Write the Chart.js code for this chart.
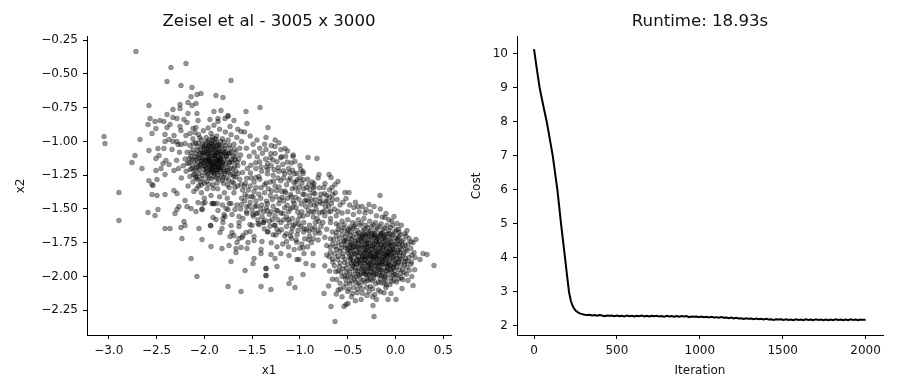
<!DOCTYPE html>
<html>
<head>
<meta charset="utf-8">
<script src="https://cdn.jsdelivr.net/npm/chart.js@4"></script>
<style>
html, body { margin: 0; padding: 0; background: #fff; overflow: hidden; width: 900px; height: 392px; }
canvas { position: absolute; top: 0; }
#graficoScatter { left: 0; }
#graficoCosto { left: 470px; }
</style>
</head>
<body>
<canvas id="graficoScatter" width="470" height="392"></canvas>
<canvas id="graficoCosto" width="430" height="392"></canvas>
<script>
// Punti isolati
const puntiIsolati = [[-2.715,-.334],[-2.349,-.452],[-2.192,-.422],[-2.39,-.556],[-2.244,-.586],[-2.129,-.6],[-1.721,-.548],[-2.035,-.645],[-2.077,-.652],[-2.139,-.669],[-1.878,-.66],[-1.805,-.674],[-2.579,-.734],[-2.254,-.726],[-2.171,-.711],[-2.087,-.719],[-2.129,-.734],[-1.418,-.749],[-1.564,-.778],[-1.899,-.778],[-1.826,-.771],[-2.328,-.763],[-2.254,-.756],[-2.39,-.8],[-2.171,-.793],[-2.077,-.793],[-1.752,-.808],[-2.568,-.83],[-2.516,-.852],[-2.464,-.845],[-2.422,-.852],[-2.589,-.874],[-2.506,-.904],[-2.547,-.941],[-2.359,-.874],[-2.39,-.897],[-2.286,-.83],[-2.328,-.822],[-2.213,-.837],[-2.181,-.86],[-2.254,-.889],[-2.244,-.919],[-2.066,-.845],[-2.118,-.904],[-2.087,-.897],[-1.941,-.837],[-1.857,-.83],[-1.857,-.852],[-1.784,-.83],[-1.752,-.815],[-1.69,-.845],[-1.731,-.889],[-1.554,-.867],[-1.616,-.926],[-1.334,-.897],[-3.049,-.963],[-3.039,-1.015],[-2.673,-.985],[-2.411,-.948],[-2.317,-.956],[-2.369,-.985],[-2.411,-1],[-2.328,-1],[-2.286,-1],[-2.244,-1.022],[-2.202,-1.015],[-2.275,-1.022],[-2.15,-.941],[-2.097,-.934],[-2.192,-.956],[-2.579,-1.067],[-2.485,-1.052],[-2.422,-1.052],[-2.338,-1.06],[-2.725,-1.104],[-2.757,-1.156],[-2.652,-1.2],[-2.506,-1.126],[-2.474,-1.104],[-2.401,-1.141],[-2.432,-1.163],[-2.369,-1.171],[-2.506,-1.215],[-2.453,-1.2],[-2.411,-1.245],[-2.317,-1.215],[-2.579,-1.29],[-2.495,-1.282],[-2.537,-1.326],[-2.547,-1.319],
[-2.893,-1.378],[-2.893,-1.585],[-2.547,-1.393],[-2.495,-1.4],[-2.411,-1.393],[-2.317,-1.363],[-2.286,-1.385],[-2.202,-1.437],[-2.265,-1.482],[-2.286,-1.504],[-2.307,-1.534],[-2.181,-1.482],[-2.139,-1.497],[-2.087,-1.519],[-2.485,-1.504],[-2.589,-1.526],[-2.516,-1.548],[-2.411,-1.645],[-2.359,-1.645],[-2.213,-1.593],[-2.202,-1.623],[-2.244,-1.637],[-2.056,-1.645],[-2.234,-1.719],[-2.024,-1.726],[-1.93,-1.778],[-1.815,-1.793],[-1.742,-1.771],[-2.139,-1.867],[-2.077,-2],[-1.721,-1.889],[-1.574,-1.956],[-1.752,-2.074],[-1.616,-2.111],[-1.407,-2.074],[-1.355,-1.993],[-1.355,-1.941],[-1.48,-1.867],[-1.491,-1.904],[-1.407,-1.83],[-1.669,-1.823],[-1.669,-1.793],[-1.616,-1.785],[-1.554,-1.793],[-1.658,-1.749],[-1.543,-1.749],[-1.48,-1.734],[-1.48,-1.704],[-1.397,-1.741],[-1.407,-1.8],[-1.731,-1.704],[-1.71,-1.674],[-1.69,-1.697],[-1.637,-1.719],[-1.596,-1.697],[-1.564,-1.674],[-1.522,-1.667],[-1.606,-1.711],[-1.815,-1.645],[-1.836,-1.674],[-1.934,-1.623],[-1.934,-1.623],[-1.721,-1.623],[-1.637,-1.63],[-1.522,-1.615],[-1.805,-1.6],[-1.909,-1.563],[-1.878,-1.578],[-1.784,-1.556],[-1.805,-1.571],[-2.024,-1.504],[-2.024,-1.5],[-2.014,-1.46],[-2.066,-1.452],[-1.993,-1.452],[-1.909,-1.46],[-1.92,-1.46],[-1.899,-1.46],[-1.867,-1.46],[-1.857,-1.511],[-1.794,-1.541],[-1.773,-1.497],[-1.71,-1.541],[-1.679,-1.504],[-1.637,-1.556],[-1.637,-1.6],[-1.721,-1.46],[-1.752,-1.504],[-1.596,-1.571],[-1.554,-1.534],[-1.491,-1.541],[-1.439,-1.608],[-1.386,-1.6],[-1.501,-1.623],[-1.334,-1.667],[-1.369,-1.583],[-1.456,-1.534],
[-.916,-1.118],[-.822,-1.126],[-1.261,-1.037],[-1.156,-1.052],[-1.303,-1.089],[-1.355,-.97],[-1.355,-1.059],[-.163,-1.4],[-.487,-1.378],[-.529,-1.378],[-.518,-1.422],[-.602,-1.296],[-.633,-1.318],[-.665,-1.341],[-.696,-1.244],[-.675,-1.267],[-.801,-1.244],[-.738,-1.311],[-.853,-1.311],[-.863,-1.333],[-.968,-1.237],[-.968,-1.222],[-1.052,-1.148],[-1,-1.178],[-1.073,-1.111],[-1.031,-1.237],[.402,-1.918],[.329,-1.837],[.287,-1.83],[.256,-1.874],[.204,-1.859],[.214,-1.726],[.183,-1.748],[.141,-1.718],[.183,-2.067],[.068,-2.089],[.005,-2.17],[-.079,-2.17],[-.048,-2.126],[-.1,-2.081],[-.016,-2.03],[-.236,-2.215],[-.225,-2.296],[-.633,-2.333],[-.675,-2.222],[-.539,-2.222],[-.497,-2.2],[-.518,-2.207],[-.748,-2.126],[-1.052,-2.081],[-1.114,-2.052],[-1.093,-2.015],[-1.303,-2.096],[-.968,-1.985],[-1.355,-1.941],[-1.355,-1.993],[-1.24,-1.926],[-.937,-1.904],[-.863,-1.918],[-.863,-1.83],[-.958,-1.83],[-1.114,-1.844],[-1.303,-1.837],[-1.261,-1.867],[-1.031,-1.874],[-1.01,-1.874],[-.1,-1.533],[-.016,-1.556],[.015,-1.607],[-.11,-1.563],[-.278,-1.467],[-.225,-1.481],[-.435,-1.489],[-.393,-1.481],[-.351,-1.481],[-.309,-1.504]];

// Nuclei densi: qui i singoli punti non si leggono, valori stimati a occhio
const nucleoAlto = [[-2.12,-.98],[-2.06,-.95],[-2.01,-.92],[-1.96,-.9],[-1.9,-.88],[-1.84,-.91],[-1.78,-.93],[-1.72,-.95],[-1.66,-.97],[-1.61,-1.0],[-2.15,-1.03],[-2.09,-1.01],[-2.03,-.99],[-1.98,-.97],[-1.93,-.94],[-1.87,-.96],[-1.81,-.98],[-1.75,-.99],[-1.69,-1.02],[-1.63,-1.05],[-2.18,-1.08],[-2.12,-1.06],[-2.07,-1.04],[-2.02,-1.02],[-1.97,-1.0],[-1.92,-.99],[-1.88,-1.01],[-1.83,-1.0],[-1.78,-1.03],[-1.73,-1.05],[-1.67,-1.08],[-2.2,-1.13],[-2.14,-1.11],[-2.09,-1.09],[-2.04,-1.06],[-2.0,-1.05],[-1.95,-1.03],[-1.9,-1.04],[-1.85,-1.05],[-1.8,-1.07],[-1.75,-1.09],[-1.7,-1.11],[-1.64,-1.13],[-2.22,-1.18],[-2.16,-1.16],[-2.11,-1.14],[-2.06,-1.12],[-2.01,-1.09],[-1.96,-1.07],[-1.91,-1.08],[-1.86,-1.09],[-1.81,-1.11],[-1.76,-1.13],[-1.71,-1.15],[-1.65,-1.18],[-2.19,-1.22],[-2.13,-1.2],[-2.08,-1.17],[-2.03,-1.15],[-1.98,-1.12],[-1.93,-1.11],[-1.88,-1.13],[-1.83,-1.15],[-1.78,-1.17],[-1.73,-1.2],[-1.67,-1.22],[-2.15,-1.26],[-2.1,-1.24],[-2.05,-1.21],[-2.0,-1.18],[-1.95,-1.16],[-1.9,-1.17],[-1.85,-1.19],[-1.8,-1.21],[-1.75,-1.23],[-1.69,-1.26],[-1.63,-1.28],[-2.12,-1.3],[-2.07,-1.28],[-2.02,-1.25],[-1.97,-1.22],[-1.92,-1.21],[-1.87,-1.23],[-1.82,-1.25],[-1.77,-1.27],[-1.71,-1.3],[-1.65,-1.33],[-2.06,-1.33],[-2.0,-1.31],[-1.95,-1.27],[-1.9,-1.26],[-1.85,-1.28],[-1.8,-1.31],[-1.74,-1.34],[-2.03,-1.38],[-1.97,-1.35],[-1.91,-1.32],[-1.86,-1.35],[-1.79,-1.38],[-1.93,-1.02],[-1.87,-1.03],[-1.98,-1.05],[-2.02,-1.08],[-1.95,-1.1],[-1.89,-1.1],[-1.84,-1.12],[-1.99,-1.14],[-1.93,-1.15],[-1.87,-1.16],[-1.82,-1.18],[-2.04,-1.18],[-1.98,-1.2],[-1.91,-1.19],[-1.86,-1.21],[-1.96,-1.24],[-1.9,-1.24],[-1.95,-.99],[-1.89,-.98],[-1.84,-1.03],[-1.91,-1.06],[-1.85,-1.07],[-1.79,-1.09],[-2.0,-1.03],[-2.05,-1.1],[-1.97,-1.09],[-1.92,-1.13],[-1.86,-1.14],[-1.81,-1.16],[-2.01,-1.16],[-1.94,-1.18],[-1.88,-1.19],[-1.83,-1.22],[-1.99,-1.23],[-1.93,-1.23],[-1.87,-1.27],[-1.94,-1.04],[-1.88,-1.06],[-1.82,-1.08],[-1.96,-1.13],[-1.9,-1.15],[-1.84,-1.17],[-1.92,-1.01],[-1.86,-1.11],[-1.94,-1.21],[-1.89,-1.22],[-1.97,-1.17],[-2.03,-1.12],[-1.77,-1.11],[-1.76,-1.19],[-1.79,-1.24],[-2.08,-1.13],[-2.06,-1.19],[-1.74,-1.16],[-1.7,-1.24],[-2.13,-1.14],[-2.1,-1.21],[-2.09,-1.27],[-2.04,-1.3],[-1.72,-1.08],[-1.68,-1.14],[-1.62,-1.1],[-1.59,-1.16],[-1.6,-1.23],[-1.56,-1.05],[-1.53,-1.11],[-1.55,-1.2],[-1.51,-1.27],[-1.57,-1.31],[-1.6,-1.36],[-1.69,-1.38],[-1.76,-1.42],[-1.84,-1.41],[-1.93,-1.4],[-2.0,-1.42],[-2.11,-1.37],[-2.17,-1.33],[-2.24,-1.27],[-2.27,-1.2],[-2.29,-1.14],[-2.26,-1.08],[-2.08,-1.35],[-1.49,-1.02],[-1.45,-.99],[-1.52,-.96],[-1.58,-.93],[-1.65,-.91]];

const rinforzoAlto = [[-2.113,-1.017],[-2.047,-.973],[-1.983,-1.012],[-1.917,-.967],[-1.853,-1.023],[-1.793,-1.006],[-1.737,-1.027],[-1.683,-1.057],[-2.137,-1.083],[-2.073,-1.067],[-2.017,-1.043],[-1.963,-1.057],[-1.907,-1.023],[-1.843,-1.077],[-1.787,-1.053],[-1.733,-1.087],[-1.677,-1.113],[-2.157,-1.127],[-2.097,-1.113],[-2.043,-1.087],[-1.987,-1.083],[-1.933,-1.067],[-1.877,-1.083],[-1.823,-1.097],[-1.767,-1.103],[-1.713,-1.133],[-1.657,-1.153],[-2.177,-1.163],[-2.123,-1.177],[-2.067,-1.153],[-2.013,-1.127],[-1.957,-1.117],[-1.903,-1.107],[-1.847,-1.143],[-1.793,-1.137],[-1.737,-1.157],[-1.683,-1.183],[-2.147,-1.207],[-2.087,-1.197],[-2.033,-1.173],[-1.977,-1.153],[-1.923,-1.167],[-1.867,-1.147],[-1.813,-1.193],[-1.757,-1.213],[-1.703,-1.203],[-1.647,-1.237],[-2.113,-1.247],[-2.057,-1.237],[-2.003,-1.207],[-1.947,-1.193],[-1.893,-1.187],[-1.837,-1.207],[-1.783,-1.223],[-1.727,-1.247],[-1.673,-1.263],[-2.077,-1.263],[-2.023,-1.277],[-1.967,-1.257],[-1.913,-1.227],[-1.857,-1.247],[-1.803,-1.267],[-1.747,-1.287],[-1.693,-1.307],[-2.033,-1.323],[-1.977,-1.297],[-1.923,-1.277],[-1.867,-1.307],[-1.813,-1.287],[-1.757,-1.323],[-1.907,-1.347],[-1.953,-1.317],[-2.003,-1.087],[-1.947,-1.137],[-1.887,-1.123],[-1.833,-1.133],[-1.897,-1.053],[-1.957,-1.033],[-2.027,-1.143],[-1.973,-1.143],[-1.917,-1.173],[-1.857,-1.173],[-1.803,-1.157],[-2.063,-1.013],[-1.823,-1.037],[-1.773,-1.077],[-1.877,-.987],[-1.943,-1.083],[-1.887,-1.097],[-1.827,-1.127],[-1.937,-1.147],[-1.883,-1.157],[-1.843,-1.193],[-1.987,-1.187],[-1.927,-1.203],[-1.877,-1.207]];

const ponte = [[-1.48,-1.08],[-1.42,-1.05],[-1.37,-1.02],[-1.31,-1.12],[-1.26,-1.09],[-1.2,-1.06],[-1.15,-1.11],[-1.09,-1.16],[-1.42,-1.15],[-1.36,-1.13],[-1.3,-1.18],[-1.24,-1.15],[-1.18,-1.17],[-1.12,-1.2],[-1.06,-1.24],[-1.0,-1.27],[-1.46,-1.2],[-1.4,-1.22],[-1.34,-1.24],[-1.28,-1.25],[-1.22,-1.22],[-1.16,-1.24],[-1.1,-1.27],[-1.04,-1.3],[-.98,-1.31],[-.92,-1.28],[-.86,-1.38],[-1.48,-1.3],[-1.42,-1.28],[-1.37,-1.32],[-1.31,-1.3],[-1.26,-1.33],[-1.2,-1.29],[-1.14,-1.32],[-1.08,-1.35],[-1.02,-1.37],[-.96,-1.35],[-.9,-1.4],[-.84,-1.43],[-.78,-1.39],[-.72,-1.4],[-.66,-1.43],[-1.54,-1.36],[-1.48,-1.37],[-1.43,-1.39],[-1.37,-1.38],[-1.31,-1.4],[-1.25,-1.41],[-1.19,-1.37],[-1.13,-1.42],[-1.07,-1.44],[-1.01,-1.43],[-.95,-1.44],[-.89,-1.47],[-.83,-1.5],[-.77,-1.46],[-.7,-1.48],[-.64,-1.5],[-.58,-1.47],[-1.58,-1.44],[-1.52,-1.45],[-1.46,-1.44],[-1.4,-1.47],[-1.34,-1.46],[-1.28,-1.48],[-1.22,-1.46],[-1.16,-1.49],[-1.1,-1.5],[-1.04,-1.49],[-.98,-1.52],[-.92,-1.54],[-.86,-1.56],[-.8,-1.53],[-.74,-1.55],[-.68,-1.57],[-1.62,-1.5],[-1.56,-1.52],[-1.5,-1.51],[-1.44,-1.53],[-1.38,-1.52],[-1.32,-1.54],[-1.26,-1.55],[-1.2,-1.53],[-1.14,-1.56],[-1.08,-1.57],[-1.02,-1.58],[-.96,-1.6],[-.9,-1.62],[-.84,-1.6],[-.78,-1.63],[-1.44,-1.58],[-1.38,-1.6],[-1.32,-1.59],[-1.26,-1.62],[-1.2,-1.6],[-1.14,-1.63],[-1.08,-1.64],[-1.02,-1.66],[-.96,-1.67],[-.9,-1.7],[-.84,-1.68],[-1.34,-1.67],[-1.28,-1.69],[-1.22,-1.67],[-1.16,-1.7],[-1.1,-1.7],[-1.04,-1.73],[-.98,-1.76],[-.92,-1.78],[-1.3,-1.75],[-1.24,-1.78],[-1.18,-1.76],[-1.12,-1.78],[-1.06,-1.8],[-1.0,-1.79],[-.88,-1.75],[-1.2,-1.83],[-1.14,-1.74],[-1.43,-1.26],[-1.35,-1.19],[-1.27,-1.21],[-1.23,-1.27],[-1.17,-1.27],[-1.11,-1.23],[-1.05,-1.34],[-.99,-1.21],[-.93,-1.34],[-.87,-1.3],[-.81,-1.27],[-.75,-1.34],[-.69,-1.36],[-.63,-1.38],[-1.33,-1.35],[-1.29,-1.43],[-1.21,-1.43],[-1.15,-1.38],[-1.09,-1.41],[-.97,-1.39],[-.91,-1.44],[-.85,-1.47],[-.79,-1.42],[-.73,-1.44],[-.67,-1.46],[-.61,-1.43],[-.55,-1.45],[-1.25,-1.51],[-1.17,-1.44],[-1.12,-1.52],[-1.06,-1.46],[-1.0,-1.55],[-.94,-1.48],[-.88,-1.52],[-.82,-1.57],[-.76,-1.6],[-.7,-1.52],[-1.58,-1.33],[-1.52,-1.33],[-1.46,-1.34],[-1.41,-1.42],[-1.35,-1.44],[-1.55,-1.41],[-1.49,-1.41],[-1.53,-1.48],[-1.47,-1.48],[-1.41,-1.5],[-1.35,-1.49],[-1.3,-1.52],[-1.23,-1.58],[-1.17,-1.58],[-1.11,-1.6],[-1.05,-1.61],[-.99,-1.63],[-.93,-1.65],[-.87,-1.65],[-.81,-1.66],[-1.61,-1.42],[-1.66,-1.47],[-1.68,-1.34],[-1.74,-1.46],[-1.81,-1.47],[-1.27,-1.62],[-1.24,-1.65],[-1.09,-1.67],[-1.03,-1.69],[-.95,-1.72],[-.86,-1.72],[-.81,-1.73],[-1.3,-1.03],[-1.22,-1.01],[-1.13,-1.07],[-1.07,-1.1],[-1.2,-1.12],[-1.26,-.99],
[-1.447,-1.113],[-1.393,-1.087],[-1.337,-1.163],[-1.283,-1.137],[-1.227,-1.193],[-1.173,-1.217],[-1.117,-1.287],[-1.063,-1.303],[-1.007,-1.337],[-.953,-1.393],[-.897,-1.357],[-.843,-1.387],[-.787,-1.447],[-.733,-1.483],[-.677,-1.517],[-1.517,-1.233],[-1.463,-1.267],[-1.407,-1.343],[-1.353,-1.307],[-1.297,-1.367],[-1.243,-1.363],[-1.187,-1.413],[-1.133,-1.473],[-1.077,-1.487],[-1.023,-1.523],[-.967,-1.553],[-.913,-1.507],[-.857,-1.523],[-.803,-1.593],[-.747,-1.517],[-1.573,-1.393],[-1.507,-1.407],[-1.453,-1.477],[-1.397,-1.557],[-1.343,-1.513],[-1.287,-1.577],[-1.233,-1.513],[-1.177,-1.533],[-1.123,-1.577],[-1.067,-1.623],[-1.013,-1.613],[-.957,-1.647],[-.903,-1.663],[-.847,-1.637],[-.793,-1.677],[-1.613,-1.467],[-1.557,-1.483],[-1.487,-1.553],[-1.427,-1.617],[-1.373,-1.647],[-1.313,-1.627],[-1.253,-1.693],[-1.193,-1.653],[-1.143,-1.683],[-1.087,-1.717],[-1.033,-1.747],[-.967,-1.787],[-.907,-1.727],[-1.337,-1.207],[-1.277,-1.293],[-1.217,-1.337],[-1.157,-1.367],[-1.097,-1.393],[-1.043,-1.413],[-.987,-1.463],[-.933,-1.433],[-.877,-1.433],[-.823,-1.463],[-.767,-1.523],[-.717,-1.447],[-.657,-1.393],[-.603,-1.517],[-1.193,-1.113],[-1.133,-1.153],[-1.077,-1.213],[-1.027,-1.283],[-.967,-1.283],[-.907,-1.317],[-.853,-1.343],[-.797,-1.343],[-.743,-1.387],[-.693,-1.413],[-1.463,-1.157],[-1.513,-1.177],[-1.407,-1.187],[-1.557,-1.273],[-1.617,-1.317]];

const nucleoBasso = [[-.62,-1.55],[-.56,-1.53],[-.5,-1.52],[-.44,-1.54],[-.38,-1.52],[-.32,-1.53],[-.26,-1.52],[-.2,-1.55],[-.14,-1.56],[-.07,-1.58],[-.68,-1.6],[-.62,-1.61],[-.56,-1.59],[-.5,-1.58],[-.45,-1.6],[-.39,-1.58],[-.33,-1.57],[-.27,-1.59],[-.21,-1.6],[-.15,-1.61],[-.09,-1.62],[-.03,-1.62],[.03,-1.65],[-.72,-1.65],[-.66,-1.67],[-.6,-1.65],[-.54,-1.64],[-.49,-1.65],[-.43,-1.63],[-.37,-1.62],[-.31,-1.62],[-.25,-1.63],[-.19,-1.64],[-.13,-1.65],[-.07,-1.66],[-.01,-1.67],[.05,-1.69],[.11,-1.7],[-.74,-1.71],[-.68,-1.72],[-.62,-1.7],[-.56,-1.69],[-.51,-1.68],[-.46,-1.67],[-.4,-1.66],[-.34,-1.66],[-.28,-1.67],[-.22,-1.68],[-.16,-1.68],[-.1,-1.69],[-.04,-1.7],[.02,-1.72],[.08,-1.73],[.13,-1.76],[-.72,-1.77],[-.66,-1.76],[-.6,-1.75],[-.54,-1.74],[-.49,-1.72],[-.44,-1.71],[-.38,-1.7],[-.32,-1.7],[-.26,-1.71],[-.2,-1.71],[-.14,-1.72],[-.08,-1.73],[-.02,-1.74],[.04,-1.76],[.1,-1.77],[.16,-1.79],[-.68,-1.82],[-.62,-1.8],[-.57,-1.79],[-.52,-1.77],[-.47,-1.75],[-.42,-1.74],[-.36,-1.74],[-.3,-1.74],[-.24,-1.75],[-.18,-1.75],[-.12,-1.76],[-.06,-1.77],[0,-1.78],[.06,-1.8],[.12,-1.81],[.17,-1.84],[-.66,-1.87],[-.6,-1.85],[-.55,-1.83],[-.5,-1.81],[-.45,-1.79],[-.4,-1.78],[-.34,-1.78],[-.28,-1.78],[-.22,-1.79],[-.16,-1.79],[-.1,-1.8],[-.04,-1.81],[.02,-1.82],[.08,-1.84],[.14,-1.86],[-.64,-1.92],[-.58,-1.9],[-.53,-1.87],[-.48,-1.85],[-.43,-1.83],[-.38,-1.82],[-.32,-1.82],[-.26,-1.82],[-.2,-1.83],[-.14,-1.83],[-.08,-1.84],[-.02,-1.85],[.04,-1.87],[.1,-1.89],[.16,-1.91],[-.6,-1.96],[-.55,-1.94],[-.5,-1.91],[-.45,-1.88],[-.4,-1.87],[-.35,-1.86],[-.3,-1.86],[-.24,-1.86],[-.18,-1.87],[-.12,-1.87],[-.06,-1.88],[0,-1.89],[.06,-1.91],[.12,-1.93],[-.56,-2.0],[-.51,-1.97],[-.46,-1.94],[-.42,-1.91],[-.37,-1.9],[-.32,-1.9],[-.26,-1.9],[-.2,-1.91],[-.14,-1.91],[-.08,-1.92],[-.02,-1.93],[.04,-1.95],[.09,-1.97],[-.58,-2.05],[-.52,-2.02],[-.47,-2.0],[-.42,-1.96],[-.38,-1.94],[-.33,-1.94],[-.28,-1.94],[-.22,-1.95],[-.16,-1.95],[-.1,-1.96],[-.04,-1.97],[.01,-1.99],[.06,-2.01],[-.6,-2.1],[-.54,-2.08],[-.48,-2.05],[-.43,-2.02],[-.38,-1.99],[-.33,-1.98],[-.28,-1.99],[-.23,-1.99],[-.17,-1.99],[-.11,-2.0],[-.05,-2.01],[.01,-2.04],[-.5,-2.11],[-.44,-2.08],[-.39,-2.05],[-.34,-2.03],[-.29,-2.03],[-.24,-2.03],[-.18,-2.04],[-.12,-2.05],[-.06,-2.06],[-.46,-2.15],[-.4,-2.12],[-.35,-2.09],[-.3,-2.08],[-.24,-2.09],[-.18,-2.1],[-.12,-2.12],[-.36,-2.17],[-.3,-2.14],[-.24,-2.15],[-.2,-2.17],[-.42,-2.18],[-.72,-1.84],[-.74,-1.92],[-.69,-1.96],[-.66,-2.02],[-.7,-2.07],[-.62,-2.13],[-.56,-2.15],[.2,-1.95],[.17,-2.0],[.13,-2.03],[.12,-1.66],[.06,-1.62],[-.04,-1.59],[-.16,-1.5],[-.48,-1.47],[-.42,-1.45]];

const rinforzoBasso = [[-.593,-1.623],[-.537,-1.617],[-.477,-1.633],[-.417,-1.613],[-.357,-1.603],[-.293,-1.637],[-.233,-1.617],[-.173,-1.627],[-.113,-1.643],[-.053,-1.637],[.007,-1.653],[-.617,-1.673],[-.563,-1.657],[-.503,-1.663],[-.447,-1.643],[-.387,-1.677],[-.323,-1.647],[-.263,-1.663],[-.207,-1.657],[-.147,-1.677],[-.087,-1.683],[-.027,-1.687],[.033,-1.707],[-.647,-1.727],[-.587,-1.717],[-.527,-1.707],[-.473,-1.693],[-.413,-1.687],[-.353,-1.693],[-.293,-1.683],[-.237,-1.697],[-.177,-1.703],[-.117,-1.707],[-.057,-1.717],[.003,-1.713],[.063,-1.743],[-.627,-1.777],[-.567,-1.763],[-.513,-1.737],[-.457,-1.723],[-.397,-1.733],[-.343,-1.707],[-.283,-1.727],[-.223,-1.713],[-.167,-1.737],[-.107,-1.727],[-.047,-1.743],[.013,-1.757],[.073,-1.767],[-.637,-1.833],[-.583,-1.813],[-.527,-1.787],[-.473,-1.767],[-.417,-1.757],[-.357,-1.767],[-.303,-1.757],[-.243,-1.737],[-.187,-1.767],[-.127,-1.747],[-.067,-1.763],[-.013,-1.767],[.047,-1.783],[.107,-1.797],[-.607,-1.873],[-.553,-1.853],[-.497,-1.827],[-.447,-1.807],[-.387,-1.797],[-.327,-1.793],[-.267,-1.773],[-.213,-1.783],[-.153,-1.763],[-.093,-1.793],[-.033,-1.797],[.027,-1.807],[.087,-1.827],[-.587,-1.927],[-.533,-1.897],[-.477,-1.873],[-.423,-1.837],[-.367,-1.827],[-.313,-1.813],[-.253,-1.797],[-.193,-1.813],[-.137,-1.797],[-.077,-1.813],[-.017,-1.823],[.043,-1.847],[.103,-1.867],[-.573,-1.967],[-.517,-1.937],[-.463,-1.903],[-.407,-1.877],[-.347,-1.847],[-.293,-1.847],[-.237,-1.823],[-.177,-1.823],[-.117,-1.833],[-.057,-1.843],[.003,-1.843],[.063,-1.873],[.123,-1.887],[-.533,-1.993],[-.483,-1.963],[-.427,-1.933],[-.373,-1.907],[-.317,-1.877],[-.263,-1.873],[-.203,-1.857],[-.143,-1.867],[-.083,-1.863],[-.023,-1.877],[.033,-1.893],[.093,-1.913],[-.503,-2.003],[-.447,-1.987],[-.397,-1.957],[-.343,-1.927],[-.283,-1.917],[-.227,-1.897],[-.167,-1.897],[-.107,-1.907],[-.047,-1.917],[.013,-1.927],[.073,-1.947],[-.463,-2.033],[-.413,-2.003],[-.357,-1.977],[-.303,-1.957],[-.247,-1.933],[-.187,-1.927],[-.127,-1.937],[-.067,-1.947],[-.007,-1.957],[.053,-1.977],[-.417,-2.043],[-.367,-2.017],[-.313,-1.987],[-.257,-1.967],[-.197,-1.957],[-.137,-1.977],[-.087,-1.987],[-.027,-1.993],[.033,-2.017],[-.373,-2.063],[-.323,-2.043],[-.267,-2.023],[-.213,-1.983],[-.157,-2.017],[-.103,-2.027],[-.043,-2.037],[-.263,-2.073],[-.207,-2.053],[-.153,-2.047],[-.097,-2.063],[-.537,-1.733],[-.497,-1.793],[-.457,-1.843],[-.437,-1.897],[-.403,-1.823],[-.383,-1.763],[-.347,-1.733],[-.317,-1.767],[-.277,-1.813],[-.247,-1.857],[-.223,-1.763],[-.197,-1.733],[-.163,-1.783],[-.133,-1.823],[-.097,-1.847],[-.073,-1.897],[-.043,-1.773],[-.017,-1.803],[.017,-1.867],[-.367,-1.793],[-.343,-1.853],[-.327,-1.903],[-.297,-1.803],[-.273,-1.903],[-.243,-1.777],[-.217,-1.847],[-.207,-1.893],[-.183,-1.843],[-.153,-1.907],[-.127,-1.783],[-.103,-1.873],[-.077,-1.753],[-.057,-1.803],[-.033,-1.863],[-.013,-1.907],[-.417,-1.783],[-.393,-1.853],[-.377,-1.883],[-.353,-1.943],[-.323,-1.733],[-.307,-1.973],[-.287,-1.753],[-.257,-1.943],[-.233,-1.973],[-.203,-1.747],[-.177,-1.947],[-.147,-1.953],[-.123,-1.713],[-.093,-1.957],[-.063,-1.683],[-.387,-1.727],[-.363,-1.713],[-.337,-1.683],[-.313,-1.693],[-.283,-1.703],[-.247,-1.683],[-.217,-1.693],[-.187,-1.717],[-.157,-1.693],[-.133,-1.683],[-.477,-1.783],[-.457,-1.757],[-.437,-1.777],[-.473,-1.813],[-.467,-1.863],[-.447,-1.923],[-.403,-1.907],[-.393,-1.983],[-.337,-1.963],[-.297,-2.013],[-.267,-1.983],[-.227,-2.013],[-.187,-1.983],[-.143,-1.993],[-.117,-2.013],[-.083,-1.933],[-.047,-1.953],[-.003,-1.987],[-.303,-1.783],[-.273,-1.843],[-.237,-1.873],[-.207,-1.813],[-.167,-1.853],[-.143,-1.893],[-.107,-1.767],[-.073,-1.827],[-.043,-1.833],[-.333,-1.823],[-.307,-1.853],[-.287,-1.893],[-.263,-1.833],[-.227,-1.853],[-.193,-1.873],[-.167,-1.813],[-.127,-1.853],[-.093,-1.833],[-.357,-1.877],[-.323,-1.873],[-.293,-1.933],[-.253,-1.913],[-.213,-1.923],[-.173,-1.913],[-.133,-1.883],[-.097,-1.903],[-.063,-1.913],[-.023,-1.933],[.017,-1.903],[.043,-1.823],[.027,-1.733],[-.683,-1.783],[-.693,-1.853],[-.657,-1.893],[-.627,-1.963],[-.617,-2.023],[-.577,-2.093],[-.517,-2.053],[-.487,-2.093],[-.447,-2.123],[-.397,-2.093],[-.347,-2.123],[-.277,-2.113],[-.217,-2.133],[-.157,-2.113],[.077,-2.023],[.113,-1.983],[.143,-1.953],[.167,-1.893],[.193,-1.823],[.163,-1.743],[.097,-1.683],[.037,-1.673]];

const iterazioni = [0,17,34,55,77,95,113,127,141,152,163,175,187,200,211,222,232,242,252,265,276,290,305,320,335,350,365,380,395,410,425,440,455,470,485,500,515,530,545,560,575,590,605,620,635,650,665,680,695,710,725,740,755,770,785,800,815,830,845,860,875,890,905,920,935,950,965,980,995,1010,1025,1040,1055,1070,1085,1100,1115,1130,1145,1160,1175,1190,1205,1220,1235,1250,1265,1280,1295,1310,1325,1340,1355,1370,1385,1400,1415,1430,1445,1460,1475,1490,1505,1520,1535,1550,1565,1580,1595,1610,1625,1640,1655,1670,1685,1700,1715,1730,1745,1760,1775,1790,1805,1820,1835,1850,1865,1880,1895,1910,1925,1940,1955,1970,1985,2000];
const costo = [10.14,9.55,9.0,8.5,8.0,7.5,7.0,6.5,6.0,5.5,5.0,4.5,4.0,3.45,3.0,2.74,2.6,2.51,2.45,2.4,2.37,2.35,2.33,2.32,2.33,2.31,2.32,2.3,2.32,2.31,2.29,2.31,2.3,2.31,2.29,2.31,2.29,2.3,2.28,2.31,2.29,2.3,2.28,2.3,2.29,2.31,2.28,2.3,2.28,2.3,2.29,2.3,2.28,2.29,2.27,2.3,2.28,2.29,2.27,2.29,2.27,2.29,2.28,2.29,2.26,2.28,2.27,2.28,2.26,2.28,2.26,2.27,2.25,2.27,2.25,2.26,2.24,2.26,2.24,2.25,2.23,2.25,2.22,2.24,2.22,2.23,2.21,2.23,2.21,2.22,2.2,2.22,2.2,2.21,2.19,2.21,2.19,2.2,2.18,2.2,2.19,2.2,2.18,2.2,2.18,2.19,2.17,2.2,2.18,2.19,2.17,2.2,2.18,2.19,2.17,2.2,2.18,2.19,2.17,2.19,2.17,2.19,2.17,2.2,2.18,2.19,2.17,2.19,2.17,2.2,2.18,2.19,2.17,2.19,2.18,2.18];

const tickX1 = [-3,-2.5,-2,-1.5,-1,-.5,0,.5];
const tickX2 = [-2.25,-2,-1.75,-1.5,-1.25,-1,-.75,-.5,-.25];
const tickIterazioni = [0,500,1000,1500,2000];
const tickCosto = [2,3,4,5,6,7,8,9,10];

const font = 'DejaVu Sans, sans-serif';
const nero = '#000';

// Scala in stile matplotlib: solo tick e bordo, larghezza fissata
function creaScala(titolo, tickList, decimali, min, max, spazio, padTitolo) {
    return {
        type: 'linear',
        min: min,
        max: max,
        border: { display: true, color: nero, width: 1 },
        grid: { display: true, drawOnChartArea: false, drawTicks: true, tickLength: 4, tickColor: nero, color: nero },
        ticks: {
            color: '#111',
            padding: 5,
            autoSkip: false,
            maxRotation: 0,
            font: { family: font, size: 12 },
            callback: (v) => v.toFixed(decimali).replace('-', '\u2212')
        },
        title: { display: true, text: titolo, color: '#111', font: { family: font, size: 12 }, padding: padTitolo },
        afterBuildTicks: (scale) => { scale.ticks = tickList.map((v) => ({ value: v })); },
        afterFit: (scale) => {
            if (scale.isHorizontal()) scale.height = spazio; else scale.width = spazio;
        }
    };
}

function opzioniBase(titolo) {
    return {
        responsive: false,
        animation: false,
        events: [],
        layout: { padding: 0 },
        plugins: {
            legend: { display: false },
            tooltip: { enabled: false },
            title: {
                display: true,
                fullSize: false,
                text: titolo,
                color: '#111',
                font: { family: font, size: 16.6, weight: 'normal' },
                padding: { top: 12, bottom: 5 }
            }
        }
    };
}

const opzioniScatter = opzioniBase('Zeisel et al - 3005 x 3000');
opzioniScatter.layout.padding = { right: 19 };
opzioniScatter.scales = {
    x: creaScala('x1', tickX1, 1, -3.227, 0.58, 57, { top: 0, bottom: 14 }),
    y: creaScala('x2', tickX2, 2, -2.433, -0.226, 87, { top: 14, bottom: 0 })
};

new Chart(document.getElementById('graficoScatter'), {
    type: 'scatter',
    data: {
        datasets: [{
            data: [...puntiIsolati, ...nucleoAlto, ...rinforzoAlto, ...ponte, ...nucleoBasso, ...rinforzoBasso].map((p) => ({ x: p[0], y: p[1] })),
            backgroundColor: 'rgba(0,0,0,0.42)',
            borderColor: 'rgba(0,0,0,0.18)',
            borderWidth: 1,
            pointRadius: 2.5
        }]
    },
    options: opzioniScatter
});

const opzioniCosto = opzioniBase('Runtime: 18.93s');
opzioniCosto.layout.padding = { right: 17 };
opzioniCosto.scales = {
    x: creaScala('Iteration', tickIterazioni, 0, -102.7, 2105, 57, { top: 0, bottom: 14 }),
    y: creaScala('Cost', tickCosto, 0, 1.735, 10.5, 47, { top: 0, bottom: 0 })
};

new Chart(document.getElementById('graficoCosto'), {
    type: 'line',
    data: {
        labels: iterazioni,
        datasets: [{
            data: iterazioni.map((v, i) => ({ x: v, y: costo[i] })),
            borderColor: nero,
            borderWidth: 2,
            pointRadius: 0,
            tension: 0,
            fill: false
        }]
    },
    options: opzioniCosto
});
</script>
</body>
</html>
